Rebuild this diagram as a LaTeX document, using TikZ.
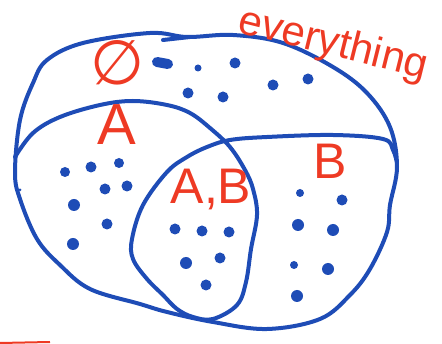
\documentclass[tikz,border=0pt]{standalone}
\usepackage{fontspec}
\setmainfont{Liberation Sans}
\newfontfamily\symfont{DejaVu Sans}
\definecolor{inkblue}{RGB}{30,76,182}
\definecolor{inkred}{RGB}{238,58,36}
\tikzset{
  stroke/.style={draw=inkblue, line width=4pt, line cap=round, line join=round},
  dotmark/.style={fill=inkblue},
  lbl/.style={text=inkred, inner sep=0pt}
}
\begin{document}
\begin{tikzpicture}[x=1pt,y=-1pt]
\useasboundingbox (0,0) rectangle (442,344);
% outer "everything" set
\draw[stroke] plot[smooth cycle, tension=0.6] coordinates {
 (15,172) (20,120) (33,83) (47,60) (83,43) (150,33) (187,37) (233,35) (283,43)
 (333,67) (367,93) (390,127) (397,167) (390,205) (387,232) (370,269) (350,295)
 (320,319) (267,329) (213,322) (167,312) (140,304) (90,289) (60,265) (37,239) (20,199)};
\draw[stroke] (163,40) -- (190,37);
% A and B circles (one stroke)
\draw[stroke] plot[smooth, tension=0.6] coordinates {
 (15,157) (33,133) (60,117) (100,105) (133,101) (167,105) (190,113) (210,128)
 (230,147) (245,170) (253,189) (257,215) (251,249) (246,282) (237,305) (213,319)
 (193,317) (177,309) (163,295) (147,279) (133,259) (132,239) (143,205) (167,172)
 (187,157) (207,147) (230,140) (267,137) (333,135) (383,139) (393,150) (397,163)};
% dots outside A and B
\draw[inkblue, line width=10pt, line cap=round] (157,62) -- (168,64);
\fill[dotmark] (198,68) circle (3.5);
\fill[dotmark] (235,63) circle (5.5);
\fill[dotmark] (188,93) circle (5.5);
\fill[dotmark] (223,97) circle (5.5);
\fill[dotmark] (273,85) circle (5.5);
\fill[dotmark] (308,79) circle (5.5);
% dots in A only
\fill[dotmark] (20,190) circle (1.5);
\fill[dotmark] (65,172) circle (5);
\fill[dotmark] (91,167) circle (5.5);
\fill[dotmark] (119,163) circle (5);
\fill[dotmark] (105,189) circle (5.5);
\fill[dotmark] (127,186) circle (5.5);
\fill[dotmark] (74,205) circle (6);
\fill[dotmark] (107,224) circle (5.5);
\fill[dotmark] (73,244) circle (6);
% dots in A and B
\fill[dotmark] (175,229) circle (5.5);
\fill[dotmark] (202,231) circle (5.5);
\fill[dotmark] (229,232) circle (5.5);
\fill[dotmark] (186,263) circle (6);
\fill[dotmark] (220,258) circle (5.5);
\fill[dotmark] (206,285) circle (5.5);
% dots in B only
\fill[dotmark] (300,193) circle (4);
\fill[dotmark] (342,200) circle (5.5);
\fill[dotmark] (298,225) circle (6);
\fill[dotmark] (333,230) circle (6);
\fill[dotmark] (294,265) circle (4);
\fill[dotmark] (328,269) circle (6);
\fill[dotmark] (297,296) circle (6);
% labels
\node[lbl, font=\symfont\fontsize{62}{62}\selectfont] (empty) at (118,63) {∅};
\node[lbl, font=\fontsize{58}{58}\selectfont] (la) at (117,125) {A};
\node[lbl, font=\fontsize{50}{50}\selectfont] (lab) at (211,190) {A,B};
\node[lbl, font=\fontsize{50}{50}\selectfont] (lb) at (330,161) {B};
\node[lbl, font=\fontsize{42}{42}\selectfont, rotate=-14] (lall) at (333,45) {everything};
% red stroke at the bottom edge
\draw[inkred, line width=2pt] (0,343) -- (50,342);
\end{tikzpicture}
\end{document}
